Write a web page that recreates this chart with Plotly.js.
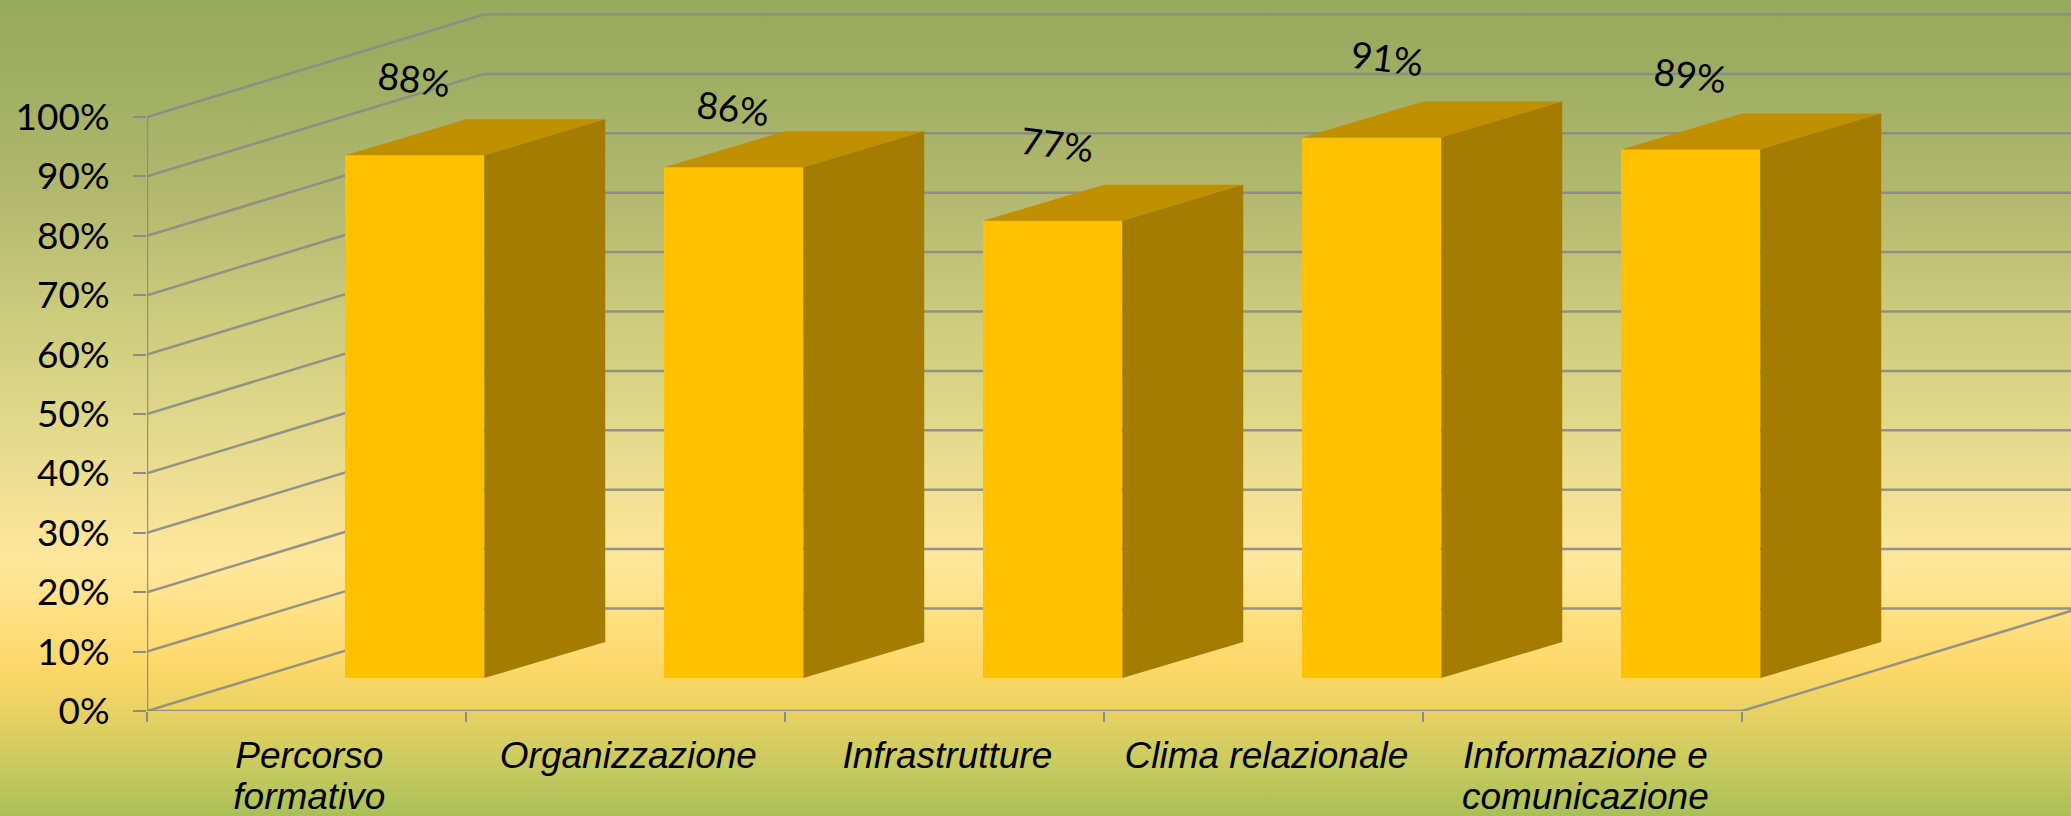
<!DOCTYPE html>
<html>
<head>
<meta charset="utf-8">
<script src="https://cdn.plot.ly/plotly-3.0.1.min.js"></script>
<style>
html,body{margin:0;padding:0;width:2071px;height:816px;overflow:hidden;
background:linear-gradient(180deg,#98aa5e 0px,#9dae62 70px,#b3b96f 200px,#c9c97c 300px,#e0d88a 420px,#ffe79d 560px,#ffdf80 620px,#fdd868 670px,#e6d163 715px,#cccb5f 760px,#a9c057 816px);}
#chart{width:2071px;height:816px;}
</style>
</head>
<body>
<div id="chart"></div>
<script>
// ---- data ----
const categories = ["Percorso<br>formativo","Organizzazione","Infrastrutture","Clima relazionale","Informazione e<br>comunicazione"];
const values = [88, 86, 77, 91, 89];
const yTicks = [0,10,20,30,40,50,60,70,80,90,100];

// ---- oblique projection of the 3D look, in axis units ----
const wallDx = 1.056, wallDy = 17.26;      // floor depth
const barShiftT = 0.3215;                  // how far back the bars stand
const barDepthDx = 0.379, barDepthDy = 6.06;
const barWidth = 0.436;
const xEnd = 1924/319;
const yEnd = 711/5.94;
const labelCentre = 0.509;                 // category label position within its slot

const centres = categories.map((_, i) => i + 0.5 + barShiftT*wallDx);
const base = barShiftT*wallDy;

const topX=[], topY=[], sideX=[], sideY=[];
values.forEach((v,i)=>{
  const l=centres[i]-barWidth/2, r=centres[i]+barWidth/2, t=base+v, b=base;
  topX.push(l,r,r+barDepthDx,l+barDepthDx,l,null);
  topY.push(t,t,t+barDepthDy,t+barDepthDy,t,null);
  sideX.push(r,r+barDepthDx,r+barDepthDx,r,r,null);
  sideY.push(b,b+barDepthDy,t+barDepthDy,t,b,null);
});

const lineStyle = {color:"rgba(140,140,134,0.92)", width:2.5};
const shapes = [];
const seg=(x0,y0,x1,y1)=>shapes.push({type:"line",xref:"x",yref:"y",layer:"below",x0,y0,x1,y1,line:lineStyle});
yTicks.forEach(v=>{
  seg(0,v,wallDx,v+wallDy);
  seg(wallDx,v+wallDy,xEnd,v+wallDy);
});
seg(0,0,0,100);
seg(0,0,categories.length,0);
seg(categories.length,0,categories.length+wallDx,wallDy);

const labelNudgeX=[0,0,5,16,0], labelNudgeY=[77,60,77,80,75];
const annotations = values.map((v,i)=>({
  x:centres[i], y:base+v, xref:"x", yref:"y",
  text:v+"%", showarrow:false, textangle:7,
  xanchor:"center", yanchor:"middle",
  xshift:labelNudgeX[i], yshift:labelNudgeY[i],
  font:{family:"Lato, sans-serif",size:37,color:"#000"}
}));

const traces = [
  {type:"bar",x:centres,y:values,base:base,width:barWidth,
   marker:{color:"#FFC000",line:{width:0}},hoverinfo:"skip",showlegend:false},
  {type:"scatter",mode:"lines",x:topX,y:topY,fill:"toself",fillcolor:"#C09000",
   line:{width:0,color:"#C09000"},hoverinfo:"skip",showlegend:false},
  {type:"scatter",mode:"lines",x:sideX,y:sideY,fill:"toself",fillcolor:"#A37C00",
   line:{width:0,color:"#A37C00"},hoverinfo:"skip",showlegend:false}
];

const layout = {
  width:2071,height:816,
  margin:{l:147,r:0,t:0,b:105,pad:0},
  paper_bgcolor:"rgba(0,0,0,0)",plot_bgcolor:"rgba(0,0,0,0)",
  showlegend:false,
  xaxis:{type:"linear",range:[0,xEnd],fixedrange:true,zeroline:false,showgrid:false,showline:false,
    tickmode:"array",tickvals:categories.map((_,i)=>i+labelCentre),ticktext:categories,
    ticks:"",tickangle:0,ticklabelstandoff:19,
    tickfont:{family:"Liberation Sans, Arial, sans-serif",size:37,color:"#000",style:"italic"},
    minor:{tickmode:"array",tickvals:categories.map((_,i)=>i).concat(categories.length),ticks:"outside",ticklen:10,tickwidth:2,tickcolor:"#8c8c86",showgrid:false}},
  yaxis:{type:"linear",range:[0,yEnd],fixedrange:true,zeroline:false,showgrid:false,showline:false,
    tickmode:"array",tickvals:yTicks,ticktext:yTicks.map(v=>v+"%"),
    ticks:"outside",ticklen:13,tickwidth:2,tickcolor:"#8c8c86",ticklabelstandoff:16,
    tickfont:{family:"Lato, sans-serif",size:37,color:"#000"}},
  shapes,annotations,bargap:0
};
Plotly.newPlot("chart",traces,layout,{displayModeBar:false,responsive:false}).then(()=>{
  // the reference sets its two-line category labels tighter than Plotly's default leading
  document.querySelectorAll(".xtick text tspan.line").forEach(t=>{
    if(parseFloat(t.getAttribute("dy"))>0) t.setAttribute("dy","1.12em");
  });
});
</script>
</body>
</html>
